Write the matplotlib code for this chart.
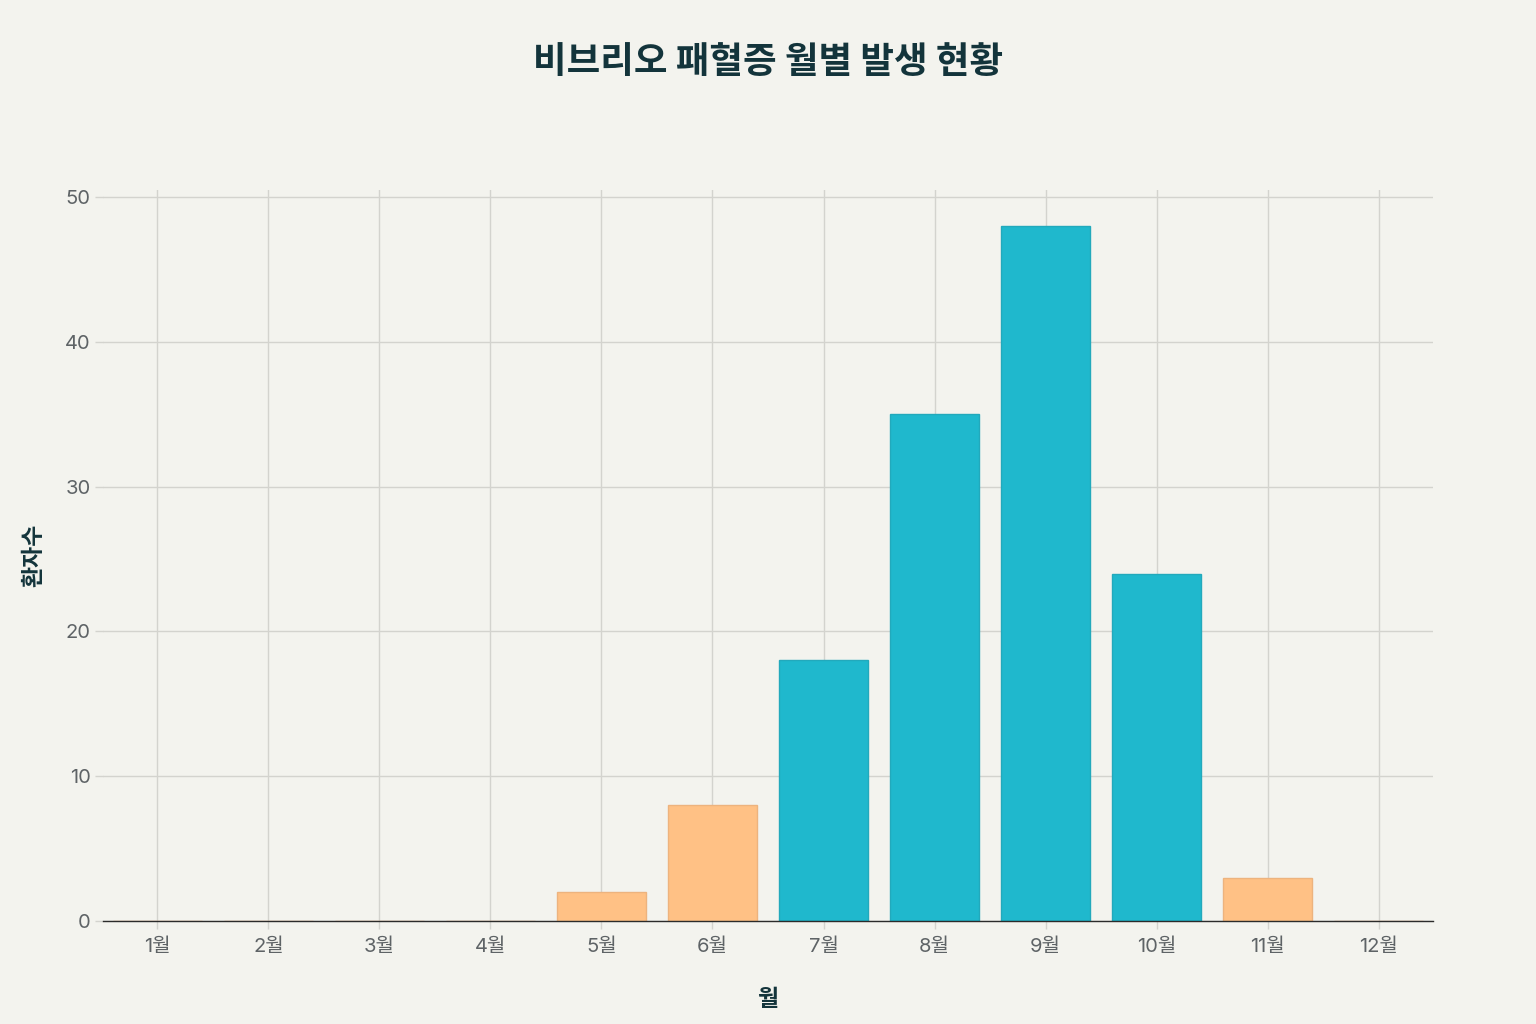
import matplotlib
matplotlib.use("Agg")
import matplotlib.pyplot as plt

plt.rcParams['font.family'] = ['Noto Sans CJK KR', 'DejaVu Sans']

months = ["1월", "2월", "3월", "4월", "5월", "6월", "7월", "8월", "9월", "10월", "11월", "12월"]
patients = [0, 0, 0, 0, 2, 8, 18, 35, 48, 24, 3, 0]
peak_threshold = 10

BG = "#F3F3EE"
TEAL = "#1FB8CD"
ORANGE = "#FFC185"
GRID = "#D3D3CE"
TEXT_DARK = "#13343B"
TICK_TEXT = "#5E6366"
TICK_FONT = ['Inter', 'Noto Sans CJK KR']

fig = plt.figure(figsize=(15.36, 10.24), dpi=100, facecolor=BG)
ax = fig.add_axes([103/1536, 1 - 921/1024, (1433 - 103)/1536, (921 - 190)/1024])
ax.set_facecolor(BG)

x = list(range(len(months)))
colors = [TEAL if v >= peak_threshold else ORANGE for v in patients]
edges = ["#22A9BC" if v >= peak_threshold else "#EDB37E" for v in patients]
ax.bar(x, patients, width=0.8, color=colors, edgecolor=edges, linewidth=1, zorder=3)

ax.set_xlim(-0.49, len(months) - 0.51)
ax.set_ylim(0, 50.5)
ax.set_yticks([0, 10, 20, 30, 40, 50])
ax.set_xticks(x)
ax.set_xticklabels(months)

ax.grid(True, color=GRID, linewidth=1, zorder=0)
for s in ["top", "right", "left"]:
    ax.spines[s].set_visible(False)
ax.spines["bottom"].set_color("#2B2B2B")
ax.spines["bottom"].set_linewidth(1)
ax.spines["bottom"].set_zorder(4)

ax.tick_params(axis="both", colors=GRID, length=6, width=1, labelsize=14.5, labelcolor=TICK_TEXT)
ax.tick_params(axis="y", pad=3)
ax.tick_params(axis="x", pad=6)
for lab in ax.get_xticklabels() + ax.get_yticklabels():
    lab.set_family(TICK_FONT)

ax.set_xlabel("월", fontsize=16.5, fontweight="bold", color=TEXT_DARK, labelpad=23)
ax.set_ylabel("환자수", fontsize=16.5, fontweight="bold", color=TEXT_DARK, labelpad=14)

fig.text(0.5, 1 - 62/1024, "비브리오 패혈증 월별 발생 현황", ha="center", va="center",
         fontsize=26.3, fontweight="bold", color=TEXT_DARK)

fig.savefig("out.png", dpi=100, facecolor=BG)
